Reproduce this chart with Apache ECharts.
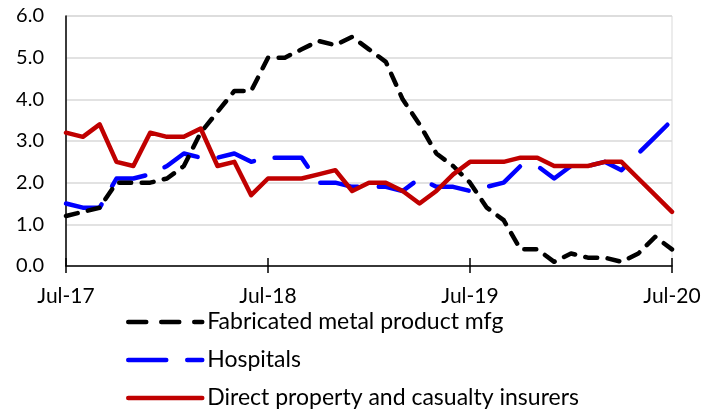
<!DOCTYPE html>
<html>
<head>
<meta charset="utf-8">
<script src="https://cdn.jsdelivr.net/npm/echarts@6/dist/echarts.min.js"></script>
<style>
  html, body { margin: 0; padding: 0; background: #fff; }
  #chart { width: 715px; height: 413px; }
</style>
</head>
<body>
<div id="chart"></div>
<script>
// monthly, Jul-17 .. Jul-20
var months = [
  "Jul-17","Aug-17","Sep-17","Oct-17","Nov-17","Dec-17","Jan-18","Feb-18","Mar-18","Apr-18","May-18","Jun-18",
  "Jul-18","Aug-18","Sep-18","Oct-18","Nov-18","Dec-18","Jan-19","Feb-19","Mar-19","Apr-19","May-19","Jun-19",
  "Jul-19","Aug-19","Sep-19","Oct-19","Nov-19","Dec-19","Jan-20","Feb-20","Mar-20","Apr-20","May-20","Jun-20",
  "Jul-20"
];
var yTicks = [0, 1, 2, 3, 4, 5, 6];

var metal = [1.2,1.3,1.4,2.0,2.0,2.0,2.1,2.4,3.2,3.7,4.2,4.2,5.0,5.0,5.2,5.4,5.3,5.5,5.2,4.9,4.0,3.4,2.7,2.4,2.0,1.4,1.1,0.4,0.4,0.1,0.3,0.2,0.2,0.1,0.3,0.7,0.4];
var hospitals = [1.5,1.4,1.4,2.1,2.1,2.2,2.4,2.7,2.6,2.6,2.7,2.5,2.6,2.6,2.6,2.0,2.0,1.9,1.9,1.9,1.8,2.1,1.9,1.9,1.8,1.9,2.0,2.4,2.4,2.1,2.4,2.4,2.5,2.3,2.7,3.1,3.5];
var insurers = [3.2,3.1,3.4,2.5,2.4,3.2,3.1,3.1,3.3,2.4,2.5,1.7,2.1,2.1,2.1,2.2,2.3,1.8,2.0,2.0,1.8,1.5,1.8,2.2,2.5,2.5,2.5,2.6,2.6,2.4,2.4,2.4,2.5,2.5,2.1,1.7,1.3];

var font = "Lato, 'Open Sans', sans-serif";

var chart = echarts.init(document.getElementById("chart"));

// ticks every 12 months
function yearly(index) {
  return index % 12 === 0;
}

chart.setOption({
  animation: false,
  grid: {
    left: 66,
    right: 43,
    top: 16,
    bottom: 147,
    show: true,
    borderColor: "#d9d9d9",
    borderWidth: 1
  },
  legend: {
    orient: "vertical",
    left: 126,
    top: 310,
    height: 110,
    padding: 0,
    itemWidth: 74,
    itemHeight: 14,
    itemGap: 14,
    itemStyle: { opacity: 0 },
    lineStyle: { width: 4.5, cap: "round", join: "round" },
    textStyle: { fontFamily: font, fontSize: 23, lineHeight: 24, color: "#000" },
    data: [
      { name: "Fabricated metal product mfg", lineStyle: { type: [18, 15] } },
      "Hospitals",
      "Direct property and casualty insurers"
    ]
  },
  xAxis: [
    {
      type: "category",
      data: months,
      boundaryGap: false,
      axisLine: { lineStyle: { color: "#000", width: 1.5 } },
      axisTick: { interval: yearly, length: 7, lineStyle: { color: "#000", width: 1.5 } },
      axisLabel: {
        interval: yearly,
        margin: 20,
        fontFamily: font,
        fontSize: 21,
        color: "#000"
      },
      splitLine: { show: false }
    },
    {
      // inside half of the crossing ticks
      type: "category",
      data: months,
      boundaryGap: false,
      position: "bottom",
      axisLine: { show: false },
      axisTick: { interval: yearly, inside: true, length: 8, lineStyle: { color: "#000", width: 1.5 } },
      axisLabel: { show: false },
      splitLine: { show: false }
    }
  ],
  yAxis: {
    type: "value",
    min: yTicks[0],
    max: yTicks[yTicks.length - 1],
    interval: 1,
    axisLine: { show: true, lineStyle: { color: "#000", width: 1.5 } },
    axisTick: { show: false },
    axisLabel: {
      margin: 22,
      fontFamily: font,
      fontSize: 20,
      color: "#000",
      formatter: function (v) { return v.toFixed(1); }
    },
    splitLine: { lineStyle: { color: "#d9d9d9", width: 1.5 } }
  },
  series: [
    {
      name: "Fabricated metal product mfg",
      type: "line",
      data: metal,
      symbol: "none",
      z: 3,
      lineStyle: { color: "#000", width: 4.5, type: [12, 10.5], cap: "round", join: "round" },
      itemStyle: { color: "#000" }
    },
    {
      name: "Hospitals",
      type: "line",
      data: hospitals,
      symbol: "none",
      z: 2,
      lineStyle: { color: "#0000ff", width: 4.5, type: [38, 21], cap: "round", join: "round" },
      itemStyle: { color: "#0000ff" }
    },
    {
      name: "Direct property and casualty insurers",
      type: "line",
      data: insurers,
      symbol: "none",
      z: 4,
      lineStyle: { color: "#c00000", width: 4.5, cap: "round", join: "round" },
      itemStyle: { color: "#c00000" }
    }
  ]
});
</script>
</body>
</html>
